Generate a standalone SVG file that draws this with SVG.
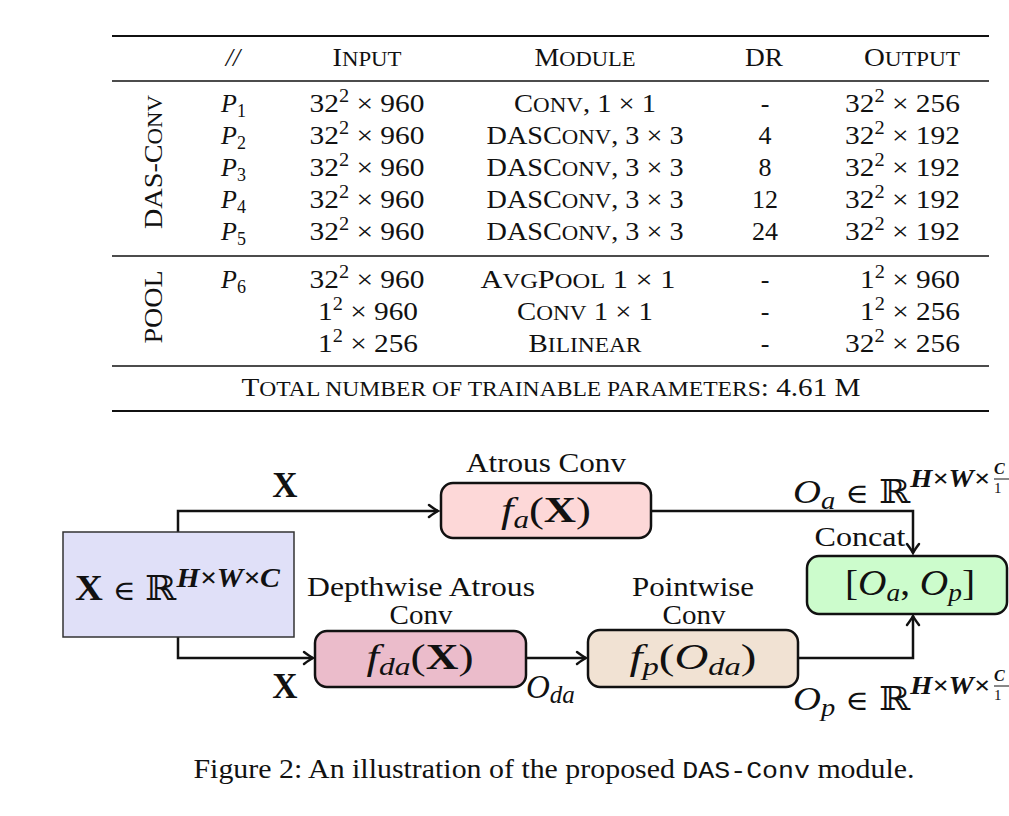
<svg xmlns="http://www.w3.org/2000/svg" width="1009" height="816" viewBox="0 0 1009 816">
<style>
.t{font-family:"Liberation Serif","DejaVu Serif",serif;font-size:26px;fill:#111}
.m{text-anchor:middle}
.e{text-anchor:end}
.sc{font-size:21px}
.sp{font-size:18px}
.it{font-style:italic}
.rule{stroke:#111;fill:none}
.lab{font-family:"Liberation Serif","DejaVu Serif",serif;font-size:27px;fill:#111}
.mt{font-family:"Liberation Serif","DejaVu Serif",serif;fill:#111}
.bb{font-weight:bold}
.ds{font-family:"DejaVu Serif",serif}
.box{stroke:#111;stroke-width:2.5}
.conn{stroke:#111;stroke-width:2.5;fill:none}
</style>
<defs>
<marker id="arr" markerUnits="userSpaceOnUse" markerWidth="20" markerHeight="20" viewBox="-12 -10 14 20" refX="0" refY="0" orient="auto">
<path d="M-9,-6 Q-3,-1.5 0,0 Q-3,1.5 -9,6" fill="none" stroke="#111" stroke-width="2.5" stroke-linecap="round"/>
</marker>
</defs>
<rect width="1009" height="816" fill="#fff"/>

<g id="table">
<line class="rule" x1="112" y1="36" x2="989" y2="36" stroke-width="2.2"/>
<line class="rule" x1="112" y1="81" x2="989" y2="81" stroke-width="1.3"/>
<line class="rule" x1="112" y1="256" x2="989" y2="256" stroke-width="1.3"/>
<line class="rule" x1="112" y1="366" x2="989" y2="366" stroke-width="1.3"/>
<line class="rule" x1="112" y1="411" x2="989" y2="411" stroke-width="2.2"/>

<text class="t m it" x="233" y="66">//</text>
<text class="t m" x="367" y="66" textLength="69" lengthAdjust="spacingAndGlyphs">I<tspan class="sc">NPUT</tspan></text>
<text class="t m" x="585" y="66" textLength="101" lengthAdjust="spacingAndGlyphs">M<tspan class="sc">ODULE</tspan></text>
<text class="t m" x="764" y="66" textLength="38" lengthAdjust="spacingAndGlyphs">DR</text>
<text class="t e" x="960" y="66" textLength="96" lengthAdjust="spacingAndGlyphs">O<tspan class="sc">UTPUT</tspan></text>

<text class="t" transform="translate(162,162) rotate(-90)" text-anchor="middle" textLength="134" lengthAdjust="spacingAndGlyphs">DAS-C<tspan class="sc">ONV</tspan></text>
<text class="t" transform="translate(162,307) rotate(-90)" text-anchor="middle" textLength="73" lengthAdjust="spacingAndGlyphs">POOL</text>

<g id="rows">
<text class="t it" x="221" y="112">P<tspan class="sp" font-style="normal" dy="5">1</tspan></text>
<text class="t it" x="221" y="144">P<tspan class="sp" font-style="normal" dy="5">2</tspan></text>
<text class="t it" x="221" y="176">P<tspan class="sp" font-style="normal" dy="5">3</tspan></text>
<text class="t it" x="221" y="208">P<tspan class="sp" font-style="normal" dy="5">4</tspan></text>
<text class="t it" x="221" y="240">P<tspan class="sp" font-style="normal" dy="5">5</tspan></text>
<text class="t it" x="221" y="288">P<tspan class="sp" font-style="normal" dy="5">6</tspan></text>

<text class="t m" x="367" y="112" textLength="115" lengthAdjust="spacingAndGlyphs">32<tspan class="sp" dy="-10">2</tspan><tspan dy="10"> × 960</tspan></text>
<text class="t m" x="367" y="144" textLength="115" lengthAdjust="spacingAndGlyphs">32<tspan class="sp" dy="-10">2</tspan><tspan dy="10"> × 960</tspan></text>
<text class="t m" x="367" y="176" textLength="115" lengthAdjust="spacingAndGlyphs">32<tspan class="sp" dy="-10">2</tspan><tspan dy="10"> × 960</tspan></text>
<text class="t m" x="367" y="208" textLength="115" lengthAdjust="spacingAndGlyphs">32<tspan class="sp" dy="-10">2</tspan><tspan dy="10"> × 960</tspan></text>
<text class="t m" x="367" y="240" textLength="115" lengthAdjust="spacingAndGlyphs">32<tspan class="sp" dy="-10">2</tspan><tspan dy="10"> × 960</tspan></text>
<text class="t m" x="367" y="288" textLength="115" lengthAdjust="spacingAndGlyphs">32<tspan class="sp" dy="-10">2</tspan><tspan dy="10"> × 960</tspan></text>
<text class="t m" x="368" y="320" textLength="100" lengthAdjust="spacingAndGlyphs">1<tspan class="sp" dy="-10">2</tspan><tspan dy="10"> × 960</tspan></text>
<text class="t m" x="368" y="352" textLength="100" lengthAdjust="spacingAndGlyphs">1<tspan class="sp" dy="-10">2</tspan><tspan dy="10"> × 256</tspan></text>

<text class="t m" x="585" y="112" textLength="142" lengthAdjust="spacingAndGlyphs">C<tspan class="sc">ONV</tspan>, 1 × 1</text>
<text class="t m" x="585" y="144" textLength="197" lengthAdjust="spacingAndGlyphs">DASC<tspan class="sc">ONV</tspan>, 3 × 3</text>
<text class="t m" x="585" y="176" textLength="197" lengthAdjust="spacingAndGlyphs">DASC<tspan class="sc">ONV</tspan>, 3 × 3</text>
<text class="t m" x="585" y="208" textLength="197" lengthAdjust="spacingAndGlyphs">DASC<tspan class="sc">ONV</tspan>, 3 × 3</text>
<text class="t m" x="585" y="240" textLength="197" lengthAdjust="spacingAndGlyphs">DASC<tspan class="sc">ONV</tspan>, 3 × 3</text>
<text class="t m" x="578" y="288" textLength="195" lengthAdjust="spacingAndGlyphs">A<tspan class="sc">VG</tspan>P<tspan class="sc">OOL</tspan> 1 × 1</text>
<text class="t m" x="585" y="320" textLength="136" lengthAdjust="spacingAndGlyphs">C<tspan class="sc">ONV</tspan> 1 × 1</text>
<text class="t m" x="585" y="352" textLength="113" lengthAdjust="spacingAndGlyphs">B<tspan class="sc">ILINEAR</tspan></text>

<text class="t m" x="765" y="112">-</text>
<text class="t m" x="765" y="144">4</text>
<text class="t m" x="765" y="176">8</text>
<text class="t m" x="765" y="208">12</text>
<text class="t m" x="765" y="240">24</text>
<text class="t m" x="765" y="288">-</text>
<text class="t m" x="765" y="320">-</text>
<text class="t m" x="765" y="352">-</text>

<text class="t e" x="960" y="112" textLength="115" lengthAdjust="spacingAndGlyphs">32<tspan class="sp" dy="-10">2</tspan><tspan dy="10"> × 256</tspan></text>
<text class="t e" x="960" y="144" textLength="115" lengthAdjust="spacingAndGlyphs">32<tspan class="sp" dy="-10">2</tspan><tspan dy="10"> × 192</tspan></text>
<text class="t e" x="960" y="176" textLength="115" lengthAdjust="spacingAndGlyphs">32<tspan class="sp" dy="-10">2</tspan><tspan dy="10"> × 192</tspan></text>
<text class="t e" x="960" y="208" textLength="115" lengthAdjust="spacingAndGlyphs">32<tspan class="sp" dy="-10">2</tspan><tspan dy="10"> × 192</tspan></text>
<text class="t e" x="960" y="240" textLength="115" lengthAdjust="spacingAndGlyphs">32<tspan class="sp" dy="-10">2</tspan><tspan dy="10"> × 192</tspan></text>
<text class="t e" x="960" y="288" textLength="100" lengthAdjust="spacingAndGlyphs">1<tspan class="sp" dy="-10">2</tspan><tspan dy="10"> × 960</tspan></text>
<text class="t e" x="960" y="320" textLength="100" lengthAdjust="spacingAndGlyphs">1<tspan class="sp" dy="-10">2</tspan><tspan dy="10"> × 256</tspan></text>
<text class="t e" x="960" y="352" textLength="115" lengthAdjust="spacingAndGlyphs">32<tspan class="sp" dy="-10">2</tspan><tspan dy="10"> × 256</tspan></text>
</g>

<text class="t m" x="551" y="396" textLength="619" lengthAdjust="spacingAndGlyphs">T<tspan class="sc">OTAL NUMBER OF TRAINABLE PARAMETERS</tspan>: 4.61 M</text>
</g>

<g id="connectors">
<polyline class="conn" points="178,532 178,511 438,511" marker-end="url(#arr)"/>
<polyline class="conn" points="178,637 178,658 313,658" marker-end="url(#arr)"/>
<polyline class="conn" points="651,511 913,511 913,553" marker-end="url(#arr)"/>
<polyline class="conn" points="526,658 586,658" marker-end="url(#arr)"/>
<polyline class="conn" points="798,658 913,658 913,616" marker-end="url(#arr)"/>
<text class="mt bb" x="285" y="497" font-size="35" text-anchor="middle">X</text>
<text class="mt bb" x="285" y="698" font-size="35" text-anchor="middle">X</text>
<text class="mt it" x="526" y="698" font-size="33">O<tspan font-size="25" dy="5">da</tspan></text>
<text class="mt" x="793" y="503" font-size="34" textLength="197" lengthAdjust="spacingAndGlyphs"><tspan class="it">O</tspan><tspan class="it" font-size="25" dy="6">a</tspan><tspan dy="-6" class="ds" font-size="28"> ∈ </tspan><tspan class="ds" font-size="33">ℝ</tspan><tspan class="it bb" font-size="25" dy="-16">H×W×</tspan></text>
<text class="mt" x="994" y="474" font-size="16" font-weight="bold" font-style="italic">C</text>
<line x1="994" y1="479" x2="1012" y2="479" stroke="#111" stroke-width="1"/>
<text class="mt" x="994" y="493" font-size="15">1</text>
<text class="mt" x="793" y="710" font-size="34" textLength="197" lengthAdjust="spacingAndGlyphs"><tspan class="it">O</tspan><tspan class="it" font-size="25" dy="6">p</tspan><tspan dy="-6" class="ds" font-size="28"> ∈ </tspan><tspan class="ds" font-size="33">ℝ</tspan><tspan class="it bb" font-size="25" dy="-16">H×W×</tspan></text>
<text class="mt" x="994" y="681" font-size="16" font-weight="bold" font-style="italic">C</text>
<line x1="994" y1="686" x2="1012" y2="686" stroke="#111" stroke-width="1"/>
<text class="mt" x="994" y="700" font-size="15">1</text>
</g>

<g id="input">
<rect x="63" y="532" width="231" height="105" fill="#e0e0f8" stroke="#333" stroke-width="1.5"/>
<text class="mt" x="75" y="600" font-size="35" textLength="205" lengthAdjust="spacingAndGlyphs"><tspan class="bb">X</tspan><tspan class="ds" font-size="28"> ∈ </tspan><tspan class="ds" font-size="34">ℝ</tspan><tspan class="it bb" font-size="27" dy="-13">H×W×C</tspan></text>
</g>

<g id="atrous">
<text class="lab m" x="546" y="472" textLength="160" lengthAdjust="spacingAndGlyphs">Atrous Conv</text>
<rect class="box" x="441" y="483" width="210" height="55" rx="12" fill="#fdd8d8"/>
<text class="mt" x="546" y="522" font-size="36" text-anchor="middle" textLength="90" lengthAdjust="spacingAndGlyphs"><tspan class="it">f</tspan><tspan class="it" font-size="25" dy="6">a</tspan><tspan dy="-6">(</tspan><tspan class="bb">X</tspan>)</text>
</g>

<g id="depthwise">
<text class="lab m" x="421" y="596" textLength="228" lengthAdjust="spacingAndGlyphs">Depthwise Atrous</text>
<text class="lab m" x="421" y="624" textLength="63" lengthAdjust="spacingAndGlyphs">Conv</text>
<rect class="box" x="315" y="631" width="211" height="56" rx="12" fill="#ebbccb"/>
<text class="mt" x="420" y="669" font-size="36" text-anchor="middle" textLength="107" lengthAdjust="spacingAndGlyphs"><tspan class="it">f</tspan><tspan class="it" font-size="25" dy="6">da</tspan><tspan dy="-6">(</tspan><tspan class="bb">X</tspan>)</text>
</g>

<g id="pointwise">
<text class="lab m" x="693" y="596" textLength="122" lengthAdjust="spacingAndGlyphs">Pointwise</text>
<text class="lab m" x="694" y="624" textLength="63" lengthAdjust="spacingAndGlyphs">Conv</text>
<rect class="box" x="588" y="630" width="210" height="57" rx="12" fill="#f1e2d3"/>
<text class="mt" x="693" y="669" font-size="36" text-anchor="middle" textLength="127" lengthAdjust="spacingAndGlyphs"><tspan class="it">f</tspan><tspan class="it" font-size="25" dy="6">p</tspan><tspan dy="-6">(</tspan><tspan class="it">O</tspan><tspan class="it" font-size="25" dy="6">da</tspan><tspan dy="-6">)</tspan></text>
</g>

<g id="concat">
<text class="lab m" x="860" y="546" textLength="91" lengthAdjust="spacingAndGlyphs">Concat</text>
<rect class="box" x="807" y="556" width="200" height="58" rx="12" fill="#ccfccc"/>
<text class="mt" x="910" y="595" font-size="36" text-anchor="middle" textLength="130" lengthAdjust="spacingAndGlyphs">[<tspan class="it">O</tspan><tspan class="it" font-size="25" dy="6">a</tspan><tspan dy="-6">, </tspan><tspan class="it">O</tspan><tspan class="it" font-size="25" dy="6">p</tspan><tspan dy="-6">]</tspan></text>
</g>

<text class="mt" x="554" y="778" font-size="27" text-anchor="middle" textLength="721" lengthAdjust="spacingAndGlyphs">Figure 2: An illustration of the proposed <tspan font-family="Liberation Mono, monospace" font-size="24">DAS-Conv</tspan> module.</text>
</svg>
